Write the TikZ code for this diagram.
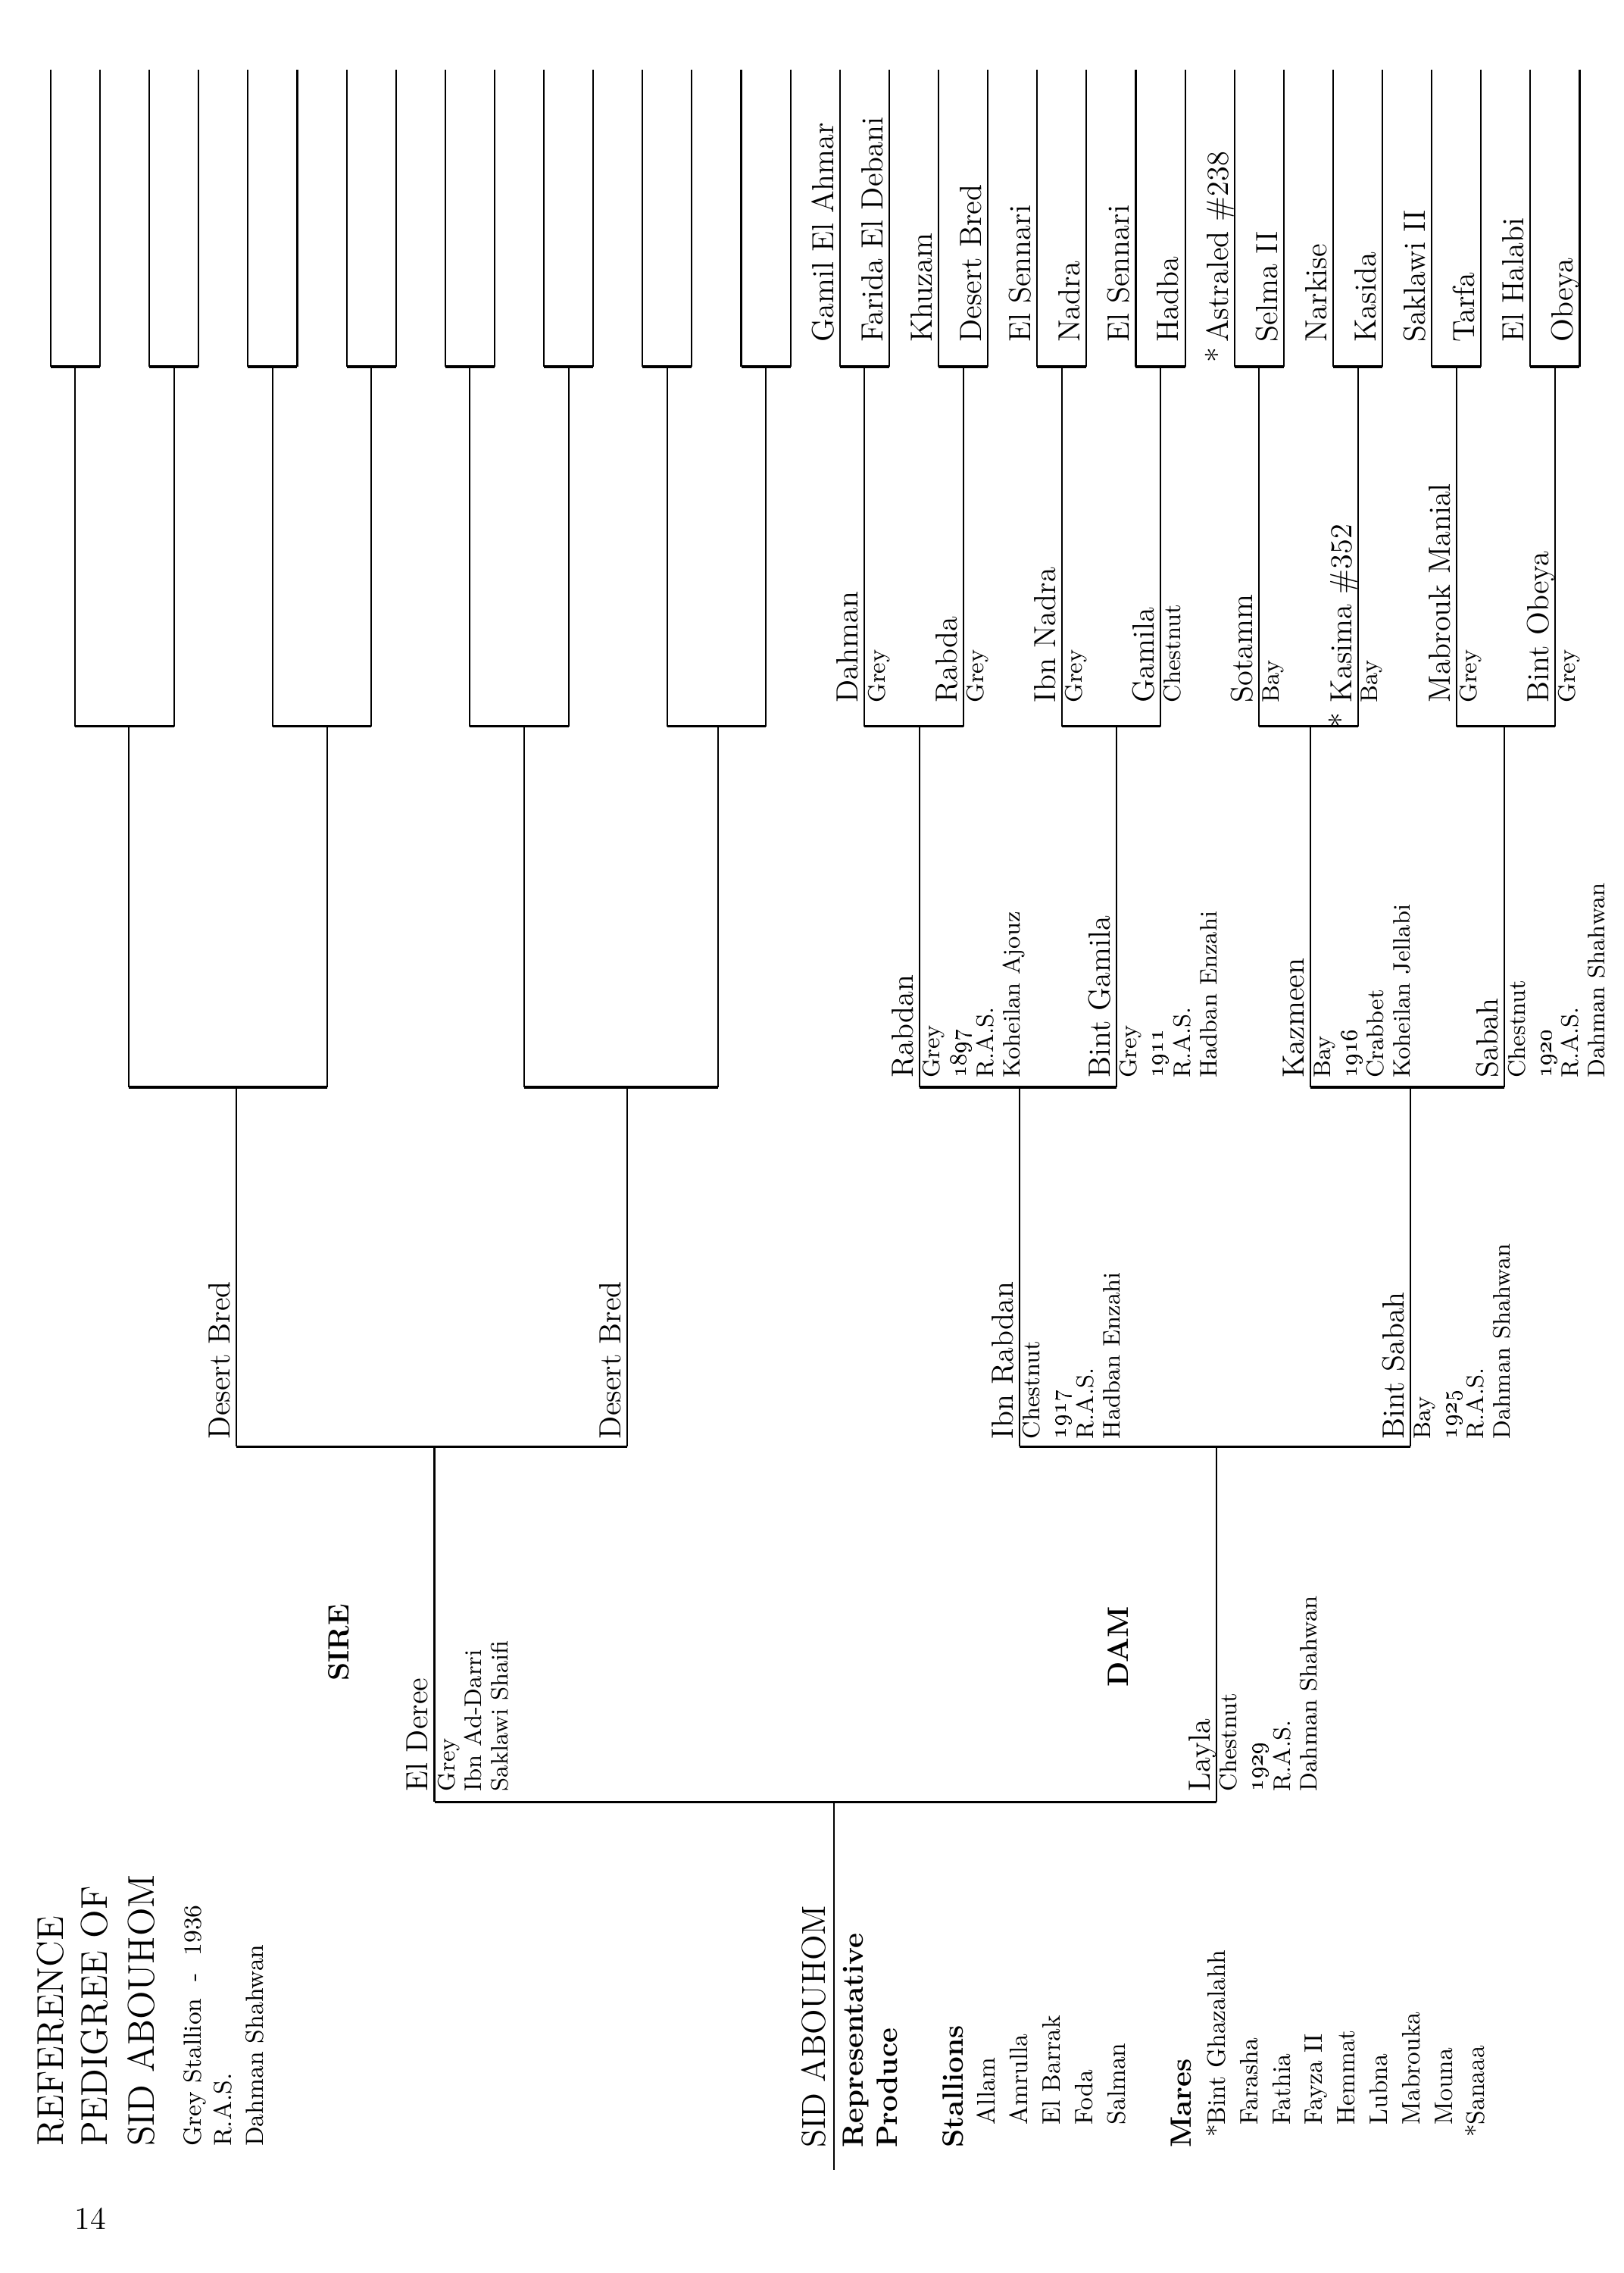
\documentclass[tikz,border=0pt]{standalone}
\usepackage{tikz}
\usetikzlibrary{calc}

\begin{document}
\begin{tikzpicture}[
	x=0.019126cm,
	y=-0.019133cm,
	stem/.style={draw, line width=0.6pt},
	joint/.style={draw, line width=0.9pt},
	horse/.style={rotate=90, anchor=base west, inner sep=0pt, font=\fontsize{11.5}{13}\selectfont},
	info/.style={rotate=90, anchor=north west, inner sep=0pt, align=left, font=\fontsize{9}{10}\selectfont},
	bigtitle/.style={rotate=90, anchor=base west, inner sep=0pt, font=\fontsize{14}{17}\selectfont},
	subtitle/.style={rotate=90, anchor=base west, inner sep=0pt, font=\fontsize{9.3}{12}\selectfont},
	rootname/.style={rotate=90, anchor=base west, inner sep=0pt, font=\fontsize{12.5}{15}\selectfont},
	heading/.style={rotate=90, anchor=base west, inner sep=0pt, font=\fontsize{11}{13}\selectfont\bfseries},
	produce/.style={rotate=90, anchor=base west, inner sep=0pt, font=\fontsize{9.5}{12}\selectfont},
	side/.style={rotate=90, anchor=base, inner sep=0pt, font=\fontsize{11}{13}\selectfont\bfseries}
]
\fill[white] (0,0) rectangle (1121,1568);
\useasboundingbox (0,0) rectangle (1121,1568);

% line of every horse, generation by generation
\foreach \i in {0,...,31}{
	\coordinate (t5-\i) at ({35+34.06*\i},48);
	\coordinate (b5-\i) at ({35+34.06*\i},253);
}
\foreach \i in {0,...,15}{
	\coordinate (t4-\i) at ({52+68.13*\i},253);
	\coordinate (b4-\i) at ({52+68.13*\i},501);
}
\foreach \x [count=\i from 0] in {89,226,362,496,635,771,905,1039}{
	\coordinate (t3-\i) at (\x,501);
	\coordinate (b3-\i) at (\x,750);
}
\foreach \x [count=\i from 0] in {163,433,704,974}{
	\coordinate (t2-\i) at (\x,750);
	\coordinate (b2-\i) at (\x,998);
}
\foreach \x [count=\i from 0] in {300,840}{
	\coordinate (t1-\i) at (\x,998);
	\coordinate (b1-\i) at (\x,1243);
}
\coordinate (t0) at (576,1243);
\coordinate (b0) at (576,1497);

\foreach \g/\n in {5/31,4/15,3/7,2/3,1/1}
	\foreach \i in {0,...,\n}
		\draw[stem] (t\g-\i) -- (b\g-\i);
\foreach \g/\n in {5/15,4/7,3/3,2/1,1/0}
	\foreach \i in {0,...,\n}{
		\pgfmathtruncatemacro{\sirei}{2*\i}
		\pgfmathtruncatemacro{\dami}{2*\i+1}
		\draw[joint] (b\g-\sirei) -- (b\g-\dami);
	}
\draw[stem] (t0) -- (b0);

% fifth generation
\foreach \nm [count=\i from 16] in {Gamil El Ahmar,Farida El Debani,Khuzam,Desert Bred,El Sennari,Nadra,El Sennari,Hadba,{\llap{*\,}Astraled \#238},Selma II,Narkise,Kasida,Saklawi II,Tarfa,El Halabi,Obeya}
	\node[horse] (n5-\i) at ($(b5-\i)+(-4.5,-16.5)$) {\nm};

% fourth generation
\foreach \nm/\col [count=\i from 8] in {Dahman/Grey,Rabda/Grey,Ibn Nadra/Grey,Gamila/Chestnut,Sotamm/Bay,{\llap{*\ }Kasima \#352}/Bay,Mabrouk Manial/Grey,Bint Obeya/Grey}{
	\node[horse] (n4-\i) at ($(b4-\i)+(-4.5,-16)$) {\nm};
	\node[info] (c4-\i) at ($(b4-\i)+(2,-16)$) {\col};
}

% third generation
\node[horse] (rabdan) at ($(b3-4)+(-4.5,-6)$) {Rabdan};
\node[info] (rabdan-c) at ($(b3-4)+(2,-6)$) {Grey\\\oldstylenums{1897}\\R.A.S.\\Koheilan Ajouz};
\node[horse] (bgamila) at ($(b3-5)+(-4.5,-6)$) {Bint Gamila};
\node[info] (bgamila-c) at ($(b3-5)+(2,-6)$) {Grey\\\oldstylenums{1911}\\R.A.S.\\Hadban Enzahi};
\node[horse] (kazmeen) at ($(b3-6)+(-4.5,-6)$) {Kazmeen};
\node[info] (kazmeen-c) at ($(b3-6)+(2,-6)$) {Bay\\\oldstylenums{1916}\\Crabbet\\Koheilan Jellabi};
\node[horse] (sabah) at ($(b3-7)+(-4.5,-6)$) {Sabah};
\node[info] (sabah-c) at ($(b3-7)+(2,-6)$) {Chestnut\\\oldstylenums{1920}\\R.A.S.\\Dahman Shahwan};

% second generation
\node[horse] (dbsire) at ($(b2-0)+(-4.5,-5)$) {Desert Bred};
\node[horse] (dbdam) at ($(b2-1)+(-4.5,-5)$) {Desert Bred};
\node[horse] (ibnrabdan) at ($(b2-2)+(-4.5,-5)$) {Ibn Rabdan};
\node[info] (ibnrabdan-c) at ($(b2-2)+(2,-5)$) {Chestnut\\\oldstylenums{1917}\\R.A.S.\\Hadban Enzahi};
\node[horse] (bsabah) at ($(b2-3)+(-4.5,-5)$) {Bint Sabah};
\node[info] (bsabah-c) at ($(b2-3)+(2,-5)$) {Bay\\\oldstylenums{1925}\\R.A.S.\\Dahman Shahwan};

% parents
\node[horse] (elderee) at ($(b1-0)+(-4.5,-7)$) {El Deree};
\node[info] (elderee-c) at ($(b1-0)+(2,-7)$) {Grey\\Ibn Ad-Darri\\Saklawi Shaifi};
\node[horse] (layla) at ($(b1-1)+(-4.5,-7)$) {Layla};
\node[info] (layla-c) at ($(b1-1)+(2,-7)$) {Chestnut\\\oldstylenums{1929}\\R.A.S.\\Dahman Shahwan};
\node[side] (sire) at (241,1133) {SIRE};
\node[side] (dam) at (779,1136) {DAM};

% title block
\node[bigtitle] (t-ref) at (43.5,1481) {REFERENCE};
\node[bigtitle] (t-ped) at (74,1481) {PEDIGREE OF};
\node[bigtitle] (t-sid) at (106.5,1481) {SID ABOUHOM};
\node[subtitle] (t-col) at (139,1481) {Grey Stallion\ \ -\ \ 1936};
\node[subtitle] (t-ras) at (160,1481) {R.A.S.};
\node[subtitle] (t-str) at (182,1481) {Dahman Shahwan};
\node[font=\fontsize{12}{14}\selectfont, anchor=base, inner sep=0pt] (pageno) at (62.5,1538) {14};

% produce
\node[rootname] (sid) at (570,1482) {SID ABOUHOM};
\node[heading] (rep) at (596,1482) {Representative};
\node[heading] (prod) at (619.6,1482) {Produce};
\node[heading] (stal) at (665,1482) {Stallions};
\foreach \nm [count=\i from 0] in {Allam,Amrulla,El Barrak,Foda,Salman}
	\node[produce] (s-\i) at ({687+22.5*\i},1466) {\nm};
\node[heading] (mares) at (822.6,1482) {Mares};
\foreach \nm [count=\i from 0] in {\llap{*}Bint Ghazalahh,Farasha,Fathia,Fayza II,Hemmat,Lubna,Mabrouka,Mouna,\llap{*}Sanaaa}
	\node[produce] (m-\i) at ({846+22.4*\i},1466) {\nm};
\end{tikzpicture}
\end{document}
